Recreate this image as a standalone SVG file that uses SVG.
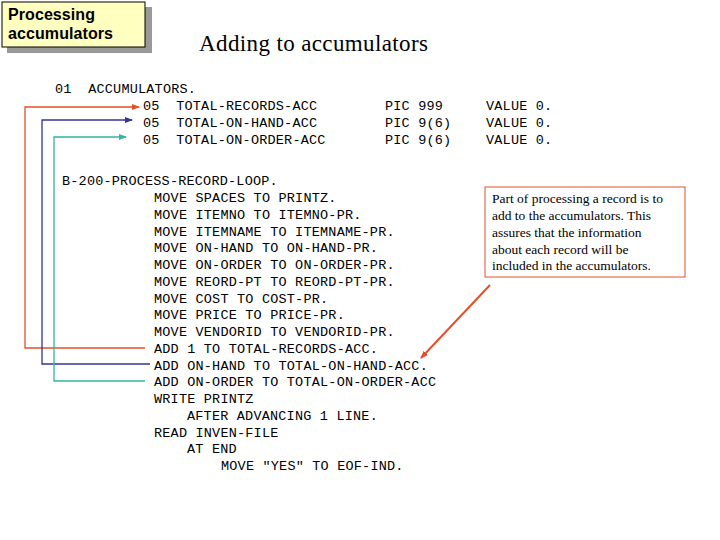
<svg xmlns="http://www.w3.org/2000/svg" width="720" height="540" viewBox="0 0 720 540">
<defs>
<style>
.m{font-family:"Liberation Mono","DejaVu Sans Mono",monospace;font-size:13.5px;fill:#000;letter-spacing:0.2px}
.c{font-family:"Liberation Serif",serif;font-size:13.5px;fill:#000}
</style>
<marker id="ao" markerWidth="8" markerHeight="8" refX="7" refY="4" orient="auto" markerUnits="userSpaceOnUse"><path d="M0,1 L8,4 L0,7z" fill="#e2502a"/></marker>
<marker id="ab" markerWidth="8" markerHeight="8" refX="7" refY="4" orient="auto" markerUnits="userSpaceOnUse"><path d="M0,1 L8,4 L0,7z" fill="#333399"/></marker>
<marker id="at" markerWidth="8" markerHeight="8" refX="7" refY="4" orient="auto" markerUnits="userSpaceOnUse"><path d="M0,1 L8,4 L0,7z" fill="#33b5a0"/></marker>
</defs>
<rect width="720" height="540" fill="#fff"/>
<g id="title-box">
<rect x="7" y="7" width="145" height="46" fill="#999"/>
<rect x="2" y="2" width="143" height="45" fill="#ffffc0" stroke="#000"/>
<text x="8" y="20" font-family="Liberation Sans,sans-serif" font-size="16" font-weight="bold" fill="#000" textLength="87">Processing</text>
<text x="8" y="39" font-family="Liberation Sans,sans-serif" font-size="16" font-weight="bold" fill="#000" textLength="105">accumulators</text>
</g>
<text x="199" y="51" font-family="Liberation Serif,serif" font-size="23" fill="#000" textLength="229">Adding to accumulators</text>
<g id="code">
<text class="m" x="55" y="93" xml:space="preserve">01  ACCUMULATORS.</text>
<text class="m" x="143" y="110" xml:space="preserve">05  TOTAL-RECORDS-ACC</text>
<text class="m" x="143" y="127" xml:space="preserve">05  TOTAL-ON-HAND-ACC</text>
<text class="m" x="143" y="144" xml:space="preserve">05  TOTAL-ON-ORDER-ACC</text>
<text class="m" x="385" y="110">PIC 999</text>
<text class="m" x="385" y="127">PIC 9(6)</text>
<text class="m" x="385" y="144">PIC 9(6)</text>
<text class="m" x="486" y="110">VALUE 0.</text>
<text class="m" x="486" y="127">VALUE 0.</text>
<text class="m" x="486" y="144">VALUE 0.</text>
<text class="m" x="62" y="185">B-200-PROCESS-RECORD-LOOP.</text>
<text class="m" x="154" y="202">MOVE SPACES TO PRINTZ.</text>
<text class="m" x="154" y="219">MOVE ITEMNO TO ITEMNO-PR.</text>
<text class="m" x="154" y="236">MOVE ITEMNAME TO ITEMNAME-PR.</text>
<text class="m" x="154" y="252">MOVE ON-HAND TO ON-HAND-PR.</text>
<text class="m" x="154" y="269">MOVE ON-ORDER TO ON-ORDER-PR.</text>
<text class="m" x="154" y="286">MOVE REORD-PT TO REORD-PT-PR.</text>
<text class="m" x="154" y="303">MOVE COST TO COST-PR.</text>
<text class="m" x="154" y="319">MOVE PRICE TO PRICE-PR.</text>
<text class="m" x="154" y="336">MOVE VENDORID TO VENDORID-PR.</text>
<text class="m" x="154" y="353">ADD 1 TO TOTAL-RECORDS-ACC.</text>
<text class="m" x="154" y="370">ADD ON-HAND TO TOTAL-ON-HAND-ACC.</text>
<text class="m" x="154" y="386">ADD ON-ORDER TO TOTAL-ON-ORDER-ACC</text>
<text class="m" x="154" y="403">WRITE PRINTZ</text>
<text class="m" x="187" y="420">AFTER ADVANCING 1 LINE.</text>
<text class="m" x="154" y="437">READ INVEN-FILE</text>
<text class="m" x="187" y="453">AT END</text>
<text class="m" x="221" y="470">MOVE "YES" TO EOF-IND.</text>
</g>
<g id="note">
<rect x="485" y="187" width="200" height="90" fill="#fff" stroke="#e2502a"/>
<text class="c" x="492" y="203">Part of processing a record is to</text>
<text class="c" x="492" y="220">add to the accumulators.  This</text>
<text class="c" x="492" y="237">assures that the information</text>
<text class="c" x="492" y="254">about each record will be</text>
<text class="c" x="492" y="270">included in the accumulators.</text>
</g>
<g id="connectors" fill="none" stroke-width="1.3">
<path d="M145,348 H25 V107 H139" stroke="#e2502a" marker-end="url(#ao)"/>
<path d="M150,364 H42 V120 H132" stroke="#333399" marker-end="url(#ab)"/>
<path d="M145,381 H54 V137 H126" stroke="#33b5a0" marker-end="url(#at)"/>
<path d="M490,285 L421,358" stroke="#e2502a" stroke-width="2" marker-end="url(#ao)"/>
</g>
</svg>
